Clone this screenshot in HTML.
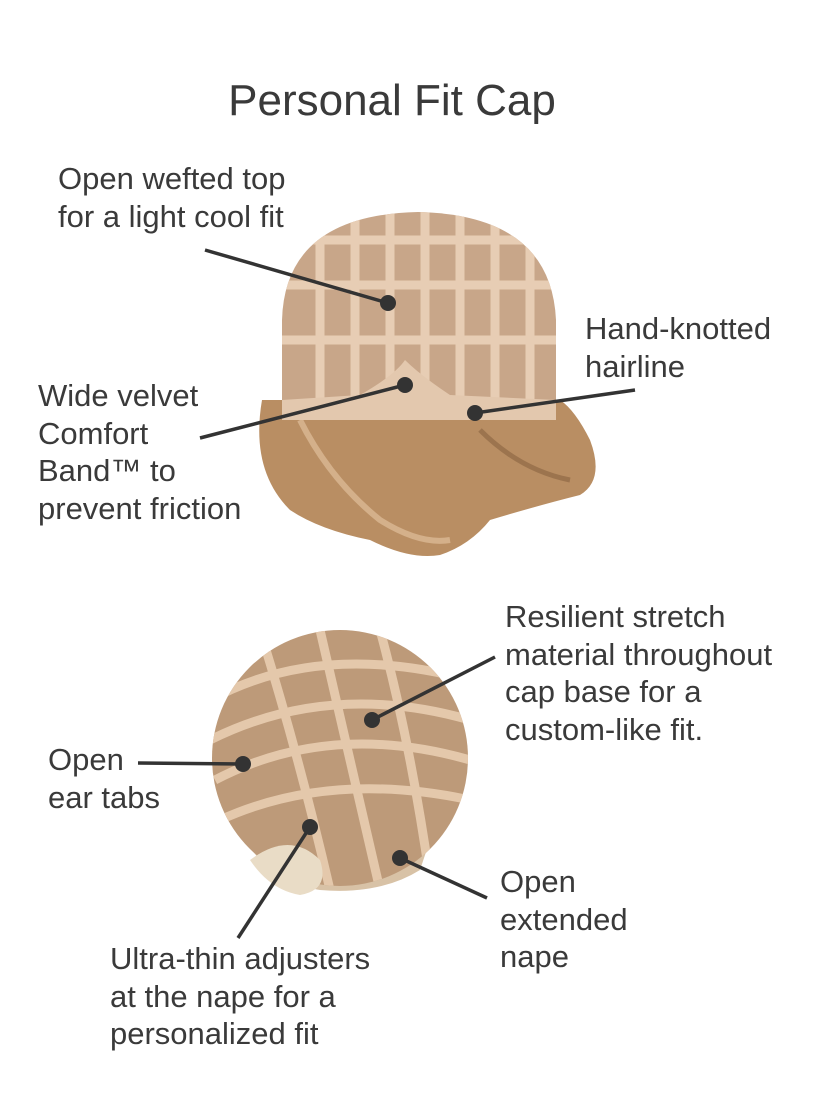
<!DOCTYPE html>
<html><head><meta charset="utf-8"><style>
html,body{margin:0;padding:0;background:#fff;}
body{width:840px;height:1120px;position:relative;overflow:hidden;font-family:"Liberation Sans",sans-serif;color:#3a3a3a;}
.t{position:absolute;font-size:31px;line-height:37.5px;white-space:nowrap;color:#3a3a3a;}
svg{position:absolute;left:0;top:0;}
</style></head><body>
<svg width="840" height="1120" viewBox="0 0 840 1120">
  <defs>
    <clipPath id="cap1"><path d="M282,420 L282,320 Q285,215 418,212 Q551,215 556,320 L556,420 Z"/></clipPath>
    <clipPath id="cap2"><circle cx="340" cy="758" r="128"/></clipPath>
  </defs>
  <path d="M262,400 Q250,470 290,510 Q320,530 370,540 Q410,560 440,555 Q470,545 490,520 Q540,505 580,495 Q605,480 590,440 Q575,410 560,400 Z" fill="#b98e63"/>
  <path d="M300,420 Q330,480 380,520 Q420,545 450,540" stroke="#d4b08a" stroke-width="6" fill="none"/>
  <path d="M480,430 Q520,470 570,480" stroke="#9c744e" stroke-width="5" fill="none"/>
  <path d="M282,420 L282,320 Q285,215 418,212 Q551,215 556,320 L556,420 Z" fill="#c8a689"/>
  <g clip-path="url(#cap1)" stroke="#e7cdb4" stroke-width="9" fill="none">
    <line x1="320" y1="210" x2="320" y2="420"/><line x1="355" y1="210" x2="355" y2="420"/>
    <line x1="390" y1="210" x2="390" y2="420"/><line x1="425" y1="210" x2="425" y2="420"/>
    <line x1="460" y1="210" x2="460" y2="420"/><line x1="495" y1="210" x2="495" y2="420"/>
    <line x1="530" y1="210" x2="530" y2="420"/>
    <line x1="280" y1="240" x2="560" y2="240"/><line x1="280" y1="285" x2="560" y2="285"/>
    <line x1="280" y1="340" x2="560" y2="340"/>
  </g>
  <path d="M282,400 L360,395 Q395,375 405,360 Q420,375 450,395 L556,400 L556,420 L282,420 Z" fill="#e3c8ae"/>
  <path d="M230,800 Q250,880 320,890 Q380,895 420,870 L430,840 L260,830 Z" fill="#d8c2a6"/>
  <circle cx="340" cy="758" r="128" fill="#bd9a79"/>
  <g clip-path="url(#cap2)" stroke="#e4c8ab" stroke-width="9" fill="none">
    <path d="M210,700 Q320,640 470,680"/><path d="M210,740 Q330,680 470,720"/>
    <path d="M215,780 Q330,720 470,760"/><path d="M220,820 Q330,770 470,800"/>
    <path d="M260,630 Q300,760 330,890"/><path d="M320,630 Q350,760 380,890"/>
    <path d="M380,630 Q410,740 430,880"/>
  </g>
  <path d="M250,860 Q290,830 320,860 Q330,890 300,895 Q270,890 250,860 Z" fill="#e9dcc6"/>
  <g stroke="#333" stroke-width="3.5" fill="none">
    <line x1="205" y1="250" x2="388" y2="303"/>
    <line x1="200" y1="438" x2="405" y2="385"/>
    <line x1="635" y1="390" x2="475" y2="413"/>
    <line x1="495" y1="657" x2="372" y2="720"/>
    <line x1="138" y1="763" x2="243" y2="764"/>
    <line x1="238" y1="938" x2="310" y2="827"/>
    <line x1="487" y1="898" x2="400" y2="858"/>
  </g>
  <g fill="#333">
    <circle cx="388" cy="303" r="8"/><circle cx="405" cy="385" r="8"/><circle cx="475" cy="413" r="8"/>
    <circle cx="372" cy="720" r="8"/><circle cx="243" cy="764" r="8"/><circle cx="310" cy="827" r="8"/>
    <circle cx="400" cy="858" r="8"/>
  </g>
</svg>
<div class="t" style="left:0;width:784px;text-align:center;top:76px;font-size:44px;line-height:50px;">Personal Fit Cap</div>
<div class="t" style="left:58px;top:160px;">Open wefted top<br>for a light cool fit</div>
<div class="t" style="left:585px;top:310px;">Hand-knotted<br>hairline</div>
<div class="t" style="left:38px;top:377px;">Wide velvet<br>Comfort<br>Band™ to<br>prevent friction</div>
<div class="t" style="left:505px;top:598px;">Resilient stretch<br>material throughout<br>cap base for a<br>custom-like fit.</div>
<div class="t" style="left:48px;top:741px;">Open<br>ear tabs</div>
<div class="t" style="left:500px;top:863px;">Open<br>extended<br>nape</div>
<div class="t" style="left:110px;top:940px;">Ultra-thin adjusters<br>at the nape for a<br>personalized fit</div>
</body></html>
